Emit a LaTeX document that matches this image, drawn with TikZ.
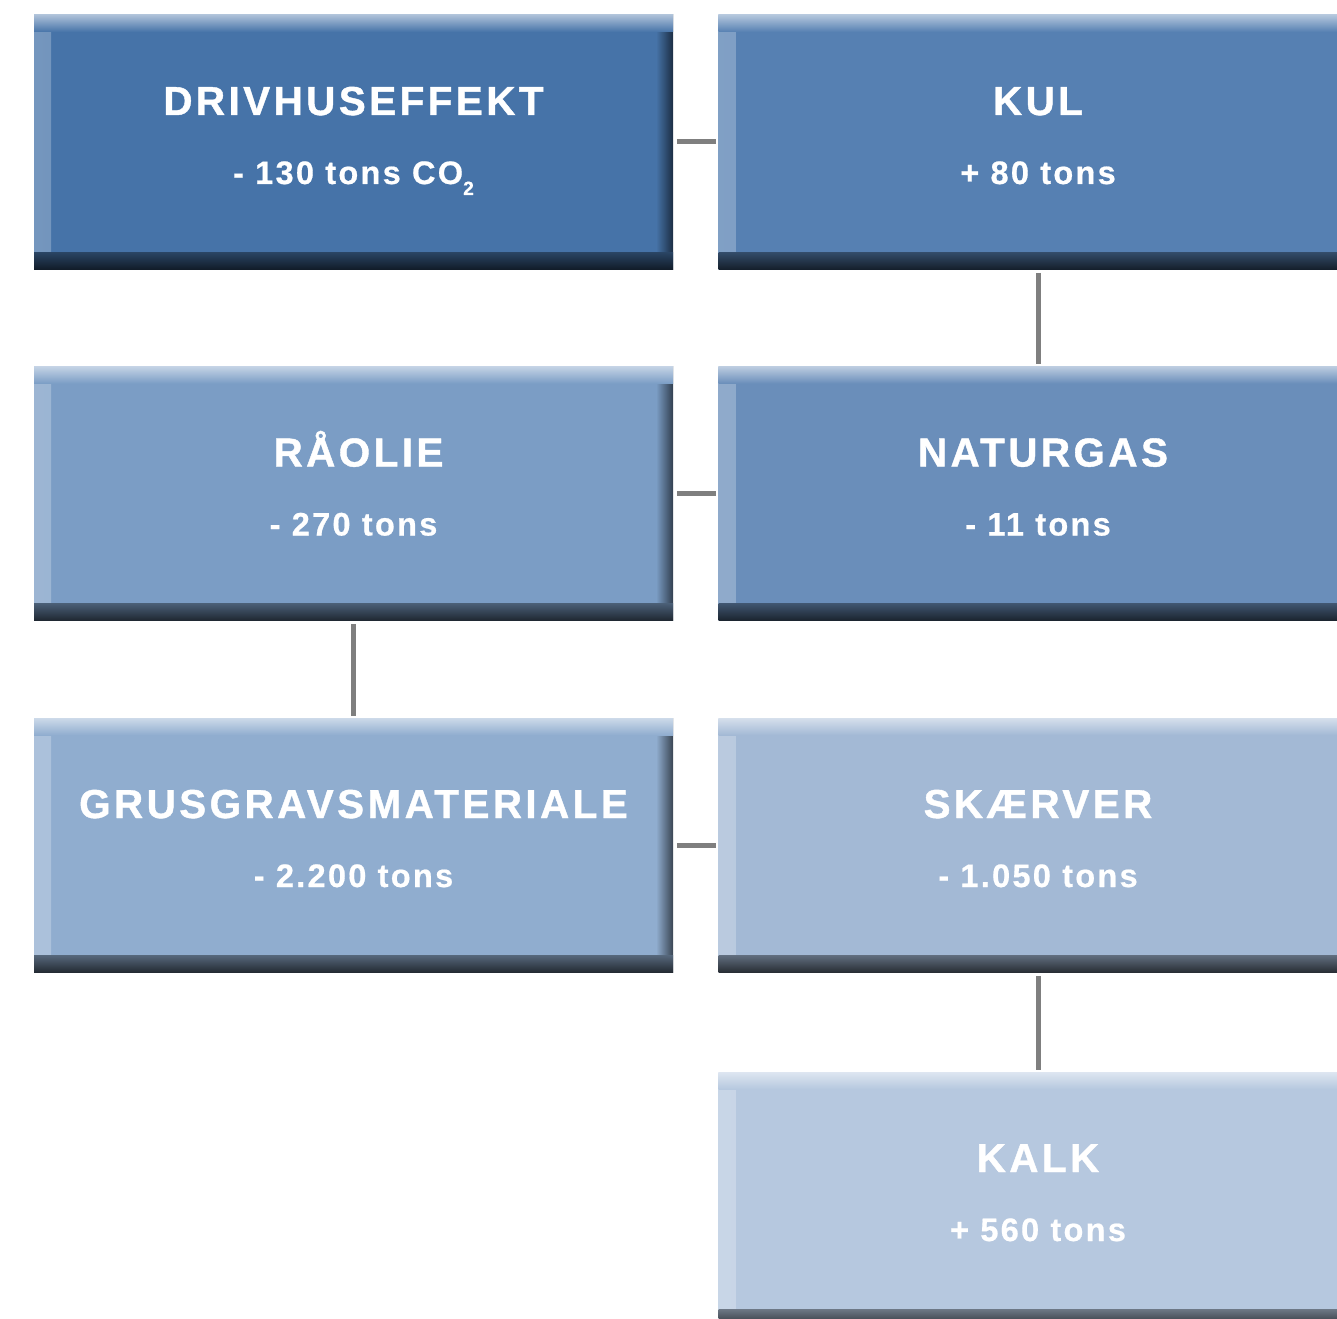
\documentclass[tikz,border=0pt]{standalone}
\usepackage{fontspec}
\setmainfont{Liberation Sans}
\newfontfamily\tilefont[LetterSpace=8.5,FakeBold=1]{Liberation Sans}
\newfontfamily\valfont[LetterSpace=7,FakeBold=0.6]{Liberation Sans}
\usetikzlibrary{calc}
\definecolor{c1}{HTML}{4673A8}
\definecolor{c2}{HTML}{5680B2}
\definecolor{c3}{HTML}{7B9DC5}
\definecolor{c4}{HTML}{6A8EBA}
\definecolor{c5}{HTML}{90ADCF}
\definecolor{c6}{HTML}{A3B9D5}
\definecolor{c7}{HTML}{B6C8DF}
\definecolor{lnkgray}{HTML}{7F7F7F}

\begin{document}
\begin{tikzpicture}[
    tile/.style={minimum width=12.78cm, minimum height=5.08cm, inner sep=0pt, fill=#1,
      path picture={
        \shade[left color=#1!75!white, right color=#1] (path picture bounding box.south west) rectangle ([xshift=0.34cm]path picture bounding box.north west);
        \shade[left color=#1, right color=#1!40!black] ([xshift=-0.34cm]path picture bounding box.south east) rectangle (path picture bounding box.north east);
        \shade[top color=#1!45!white, bottom color=#1] (path picture bounding box.north west) rectangle ([yshift=-0.34cm]path picture bounding box.north east);
        \shade[top color=#1!60!black, bottom color=black!75!#1] ([yshift=0.34cm]path picture bounding box.south west) rectangle (path picture bounding box.south east);
      }},
    ttl/.style={anchor=base, inner sep=0pt, text=white, font=\tilefont\bfseries\fontsize{23}{26}\selectfont},
    val/.style={anchor=base, inner sep=0pt, text=white, font=\valfont\bfseries\fontsize{18.5}{22}\selectfont},
    lnk/.style={draw=lnkgray, line width=0.1cm, shorten <=2pt, shorten >=1pt}
]
\useasboundingbox (0,0) rectangle (26.74,-26.36);

% boxes
\node[tile=c1] (drv) at (7.07,-2.84) {};
\node[tile=c2] (kul) at (20.76,-2.84) {};
\node[tile=c3] (olie) at (7.07,-9.87) {};
\node[tile=c4] (gas) at (20.76,-9.87) {};
\node[tile=c5] (grus) at (7.07,-16.9) {};
\node[tile=c6] (skaer) at (20.76,-16.9) {};
\node[tile=c7] (kalk) at (20.76,-23.98) {};

% texts
\node[ttl] (drvt) at ([yshift=0.54cm]drv.center) {DRIVHUSEFFEKT};
\node[val] (drvv) at ([yshift=-0.84cm]drv.center) {- 130 tons CO\raisebox{-0.22cm}{\fontsize{11}{11}\selectfont 2}};
\node[ttl] (kult) at ([yshift=0.54cm]kul.center) {KUL};
\node[val] (kulv) at ([yshift=-0.84cm]kul.center) {+ 80 tons};
\node[ttl] (oliet) at ([xshift=0.1cm,yshift=0.54cm]olie.center) {RÅOLIE};
\node[val] (oliev) at ([yshift=-0.84cm]olie.center) {- 270 tons};
\node[ttl] (gast) at ([xshift=0.1cm,yshift=0.54cm]gas.center) {NATURGAS};
\node[val] (gasv) at ([yshift=-0.84cm]gas.center) {- 11 tons};
\node[ttl] (grust) at ([yshift=0.54cm]grus.center) {GRUSGRAVSMATERIALE};
\node[val] (grusv) at ([yshift=-0.84cm]grus.center) {- 2.200 tons};
\node[ttl] (skaert) at ([yshift=0.54cm]skaer.center) {SKÆRVER};
\node[val] (skaerv) at ([yshift=-0.84cm]skaer.center) {- 1.050 tons};
\node[ttl] (kalkt) at ([yshift=0.54cm]kalk.center) {KALK};
\node[val] (kalkv) at ([yshift=-0.84cm]kalk.center) {+ 560 tons};

% links
\draw[lnk] (drv) -- (kul);
\draw[lnk] (kul) -- (gas);
\draw[lnk] (olie) -- (gas);
\draw[lnk] (olie) -- (grus);
\draw[lnk] (grus) -- (skaer);
\draw[lnk] (skaer) -- (kalk);
\end{tikzpicture}
\end{document}
